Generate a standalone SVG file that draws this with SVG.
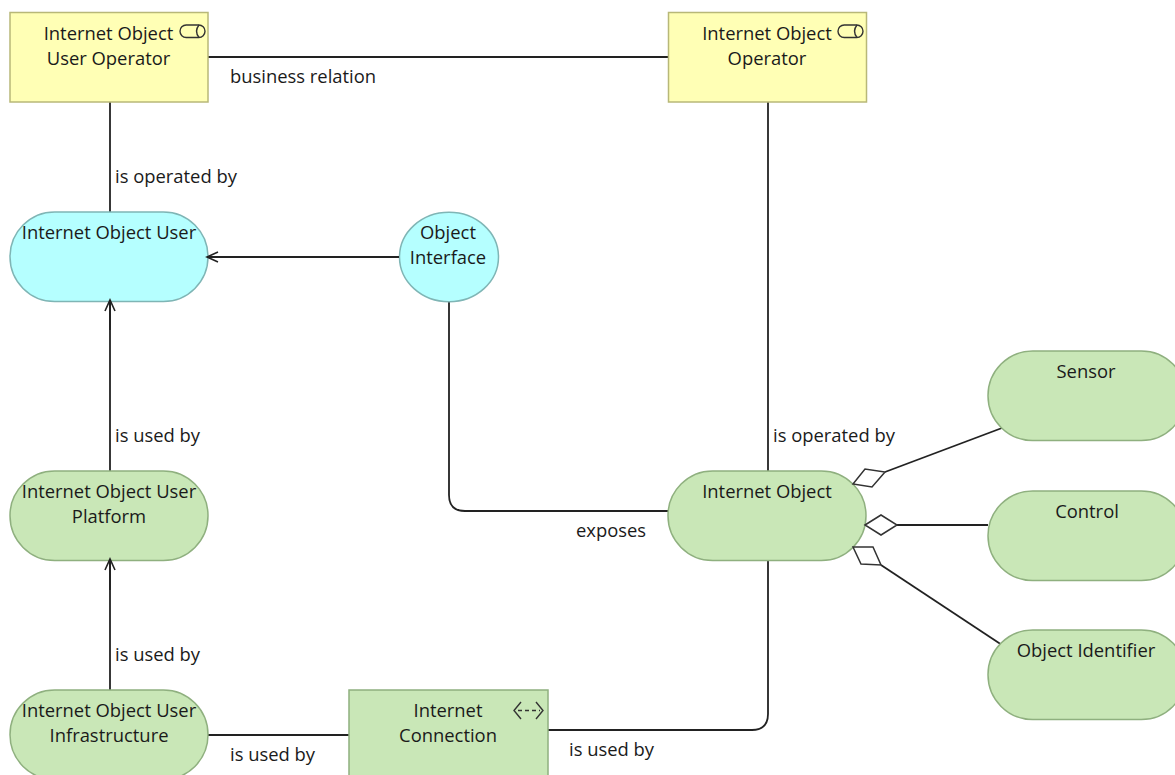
<svg xmlns="http://www.w3.org/2000/svg" width="1175" height="775" viewBox="0 0 1175 775">
<style>
text{font-family:"Open Sans","Noto Sans","Liberation Sans",sans-serif;font-size:18.4px;fill:#1a1a1a}
.c{text-anchor:middle}
.y{fill:#ffffb5;stroke:#b8b878;stroke-width:1.5}
.b{fill:#b5ffff;stroke:#7fb5b5;stroke-width:1.5}
.g{fill:#c9e7b7;stroke:#8fb07f;stroke-width:1.5}
.l{fill:none;stroke:#222;stroke-width:1.8}
.a{marker-end:url(#open)}
.d{fill:#fff;stroke:#333;stroke-width:1.5}
.i{fill:none;stroke:#333;stroke-width:1.4}
</style>
<defs>
<marker id="open" markerWidth="14" markerHeight="14" refX="12" refY="7" orient="auto" markerUnits="userSpaceOnUse">
<path d="M1 2 L12 7 L1 12" fill="none" stroke="#222" stroke-width="1.6"/>
</marker>
</defs>
<g id="connectors">
<path class="l" d="M208 57H668"/>
<path class="l" d="M110 102V212"/>
<path class="l" d="M110 471V301"/>
<path class="l" d="M110 690V560"/>
<path class="l" d="M449 301V495Q449 511 465 511H668"/>
<path class="l" d="M768 102V471"/>
<path class="l" d="M768 560V714Q768 730 752 730H548"/>
<path class="l" d="M208 735H349"/>
<path class="l" d="M885 472L1002 428"/>
<path class="l" d="M897 525H988"/>
<path class="l" d="M881 565L1002 645"/>
</g>
<g id="user-operator">
<rect class="y" x="10" y="12.500" width="198" height="89.500"/>
<rect class="i" x="180" y="25" width="25" height="12.500" rx="6.200"/>
<path class="i" d="M199 25Q194 31.200 199 37.500"/>
<text class="c" x="108.500" y="39.500">Internet Object</text>
<text class="c" x="108.500" y="64.500">User Operator</text>
</g>
<g id="operator">
<rect class="y" x="668.500" y="12.500" width="198" height="89.500"/>
<rect class="i" x="838" y="25" width="25" height="12.500" rx="6.200"/>
<path class="i" d="M857 25Q852 31.200 857 37.500"/>
<text class="c" x="767" y="39.500">Internet Object</text>
<text class="c" x="767" y="64.500">Operator</text>
</g>
<g id="object-user">
<rect class="b" x="10" y="212" width="198" height="89.500" rx="44.700"/>
<text class="c" x="109" y="238.500">Internet Object User</text>
</g>
<g id="object-interface">
<ellipse class="b" cx="449" cy="257" rx="49.500" ry="44.700"/>
<text class="c" x="448" y="238.500">Object</text>
<text class="c" x="448" y="263.500">Interface</text>
</g>
<g id="user-platform">
<rect class="g" x="10" y="471" width="198" height="89.500" rx="44.700"/>
<text class="c" x="109" y="497.500">Internet Object User</text>
<text class="c" x="109" y="522.500">Platform</text>
</g>
<g id="user-infrastructure">
<rect class="g" x="10" y="690" width="198" height="89.500" rx="44.700"/>
<text class="c" x="109" y="716.500">Internet Object User</text>
<text class="c" x="109" y="741.500">Infrastructure</text>
</g>
<g id="internet-connection">
<rect class="g" x="349" y="690" width="199" height="90"/>
<path class="i" d="M521 702L514 710.500L521 719M536 702L543 710.500L536 719"/>
<path class="i" d="M518 710.500H540" stroke-dasharray="4 3"/>
<text class="c" x="448" y="716.500">Internet</text>
<text class="c" x="448" y="741.500">Connection</text>
</g>
<g id="internet-object">
<rect class="g" x="668" y="471" width="198" height="89.500" rx="44.700"/>
<text class="c" x="767" y="497.500">Internet Object</text>
</g>
<g id="sensor">
<rect class="g" x="988" y="351" width="198" height="89.500" rx="44.700"/>
<text class="c" x="1086" y="378">Sensor</text>
</g>
<g id="control">
<rect class="g" x="988" y="491" width="198" height="89.500" rx="44.700"/>
<text class="c" x="1087" y="517.500">Control</text>
</g>
<g id="object-identifier">
<rect class="g" x="988" y="630" width="198" height="89.500" rx="44.700"/>
<text class="c" x="1086" y="657">Object Identifier</text>
</g>
<g id="overlays">
<path class="l a" d="M399 257H207"/>
<path class="l a" d="M110 330V300"/>
<path class="l a" d="M110 590V559"/>
<path class="d" d="M853 484L865 469L885 472L872 487Z"/>
<path class="d" d="M865 525L881 515L897 525L881 535Z"/>
<path class="d" d="M853 547L873 547L881 565L861 564Z"/>
</g>
<g id="labels">
<text x="230" y="82.500">business relation</text>
<text x="115" y="182.500">is operated by</text>
<text x="115" y="441.500">is used by</text>
<text x="115" y="660.500">is used by</text>
<text x="230" y="760.500">is used by</text>
<text x="569" y="755.500">is used by</text>
<text x="576" y="536.500">exposes</text>
<text x="773" y="441.500">is operated by</text>
</g>
</svg>
